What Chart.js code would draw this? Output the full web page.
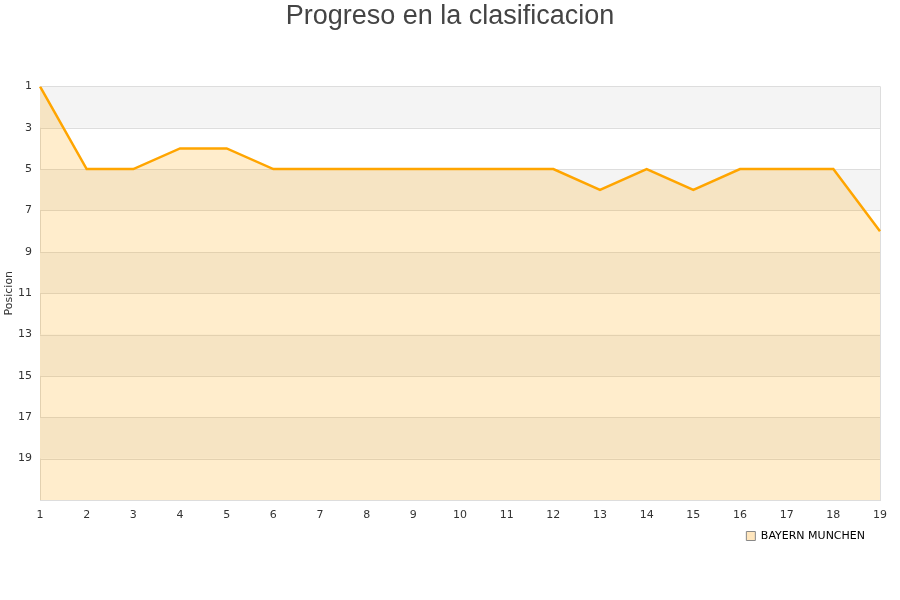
<!DOCTYPE html>
<html>
<head>
<meta charset="utf-8">
<script src="https://cdn.jsdelivr.net/npm/chart.js@4"></script>
<style>
html,body{margin:0;padding:0;background:#fff;}
#wrap{width:900px;height:600px;}
</style>
</head>
<body>
<div id="wrap"><canvas id="c" width="900" height="600"></canvas></div>
<script>
const jornadas = ['1','2','3','4','5','6','7','8','9','10','11','12','13','14','15','16','17','18','19'];
const posiciones = [1,5,5,4,4,5,5,5,5,5,5,5,6,5,6,5,5,5,8];
const equipo = 'BAYERN MUNCHEN';
const tituloGrafico = 'Progreso en la clasificacion';
const tituloEjeY = 'Posicion';
const posMin = 1, posMax = 21, paso = 2;

const bandsPlugin = {
  id: 'bands',
  beforeDatasetsDraw(chart) {
    const y = chart.scales.y, a = chart.chartArea, ctx = chart.ctx;
    ctx.save();
    ctx.fillStyle = '#f4f4f4';
    for (let v = posMin, i = 0; v < posMax; v += paso, i++) {
      if (i % 2 === 0) {
        const p1 = y.getPixelForValue(v), p2 = y.getPixelForValue(v + paso);
        ctx.fillRect(a.left, Math.min(p1, p2), a.right - a.left, Math.abs(p2 - p1));
      }
    }
    ctx.strokeStyle = '#dddddd';
    ctx.lineWidth = 1;
    for (let v = posMin; v <= posMax; v += paso) {
      const p = Math.round(y.getPixelForValue(v)) + 0.5;
      ctx.beginPath(); ctx.moveTo(a.left, p); ctx.lineTo(a.right, p); ctx.stroke();
    }
    ctx.restore();
  }
};

const legendShift = {
  id: 'legendShift',
  beforeDraw(chart) {
    if (chart.legend) chart.legend.top = chart.chartArea.bottom + 15.5;
  }
};

new Chart(document.getElementById('c'), {
  type: 'line',
  data: {
    labels: jornadas,
    datasets: [{
      label: equipo,
      data: posiciones,
      borderColor: '#ffa500',
      backgroundColor: 'rgba(255,165,0,0.2)',
      borderWidth: 2.5,
      pointRadius: 0,
      tension: 0,
      fill: 'start'
    }]
  },
  options: {
    responsive: false,
    animation: false,
    layout: { padding: { left: 0, right: 0, top: 0, bottom: 42 } },
    plugins: {
      title: {
        display: true,
        text: tituloGrafico,
        color: '#444444',
        font: { family: 'Liberation Sans', size: 27, weight: 'normal' },
        padding: { top: 0, bottom: 54 }
      },
      legend: {
        display: true,
        position: 'bottom',
        align: 'end',
        fullSize: false,
        labels: {
          boxWidth: 9,
          boxHeight: 9,
          color: '#222222',
          font: { family: 'DejaVu Sans', size: 11 },
          padding: 15,
          generateLabels(chart) {
            return chart.data.datasets.map((d, i) => ({
              text: d.label,
              fillStyle: '#ffe6bd',
              strokeStyle: '#888888',
              lineWidth: 1,
              datasetIndex: i,
              hidden: false
            }));
          }
        }
      },
      tooltip: { enabled: false }
    },
    scales: {
      x: {
        type: 'category',
        offset: false,
        grid: {
          display: true,
          drawTicks: false,
          color: (ctx) => ctx.index === jornadas.length - 1 ? '#dddddd' : 'rgba(0,0,0,0)'
        },
        border: { display: true, color: '#dddddd' },
        ticks: {
          color: '#333333',
          font: { family: 'DejaVu Sans', size: 11 },
          padding: 9,
          maxRotation: 0,
          autoSkip: false
        },
        afterFit(scale) { scale.height = 22; }
      },
      y: {
        reverse: true,
        min: posMin,
        max: posMax,
        grid: { display: false, drawTicks: false },
        border: { display: true, color: '#dddddd' },
        ticks: {
          stepSize: paso,
          color: '#333333',
          font: { family: 'DejaVu Sans', size: 11 },
          padding: 8,
          callback: (v) => v === posMax ? '' : v
        },
        title: {
          display: true,
          text: tituloEjeY,
          color: '#333333',
          font: { family: 'DejaVu Sans', size: 11 },
          padding: { top: 3, bottom: 0 }
        },
        afterFit(scale) { scale.width = 40; }
      },
      yRight: {
        type: 'linear',
        position: 'right',
        display: true,
        min: 0,
        max: 1,
        grid: { display: false, drawTicks: false },
        border: { display: false },
        ticks: { display: false },
        afterFit(scale) { scale.width = 20; }
      }
    }
  },
  plugins: [bandsPlugin, legendShift]
});
</script>
</body>
</html>
